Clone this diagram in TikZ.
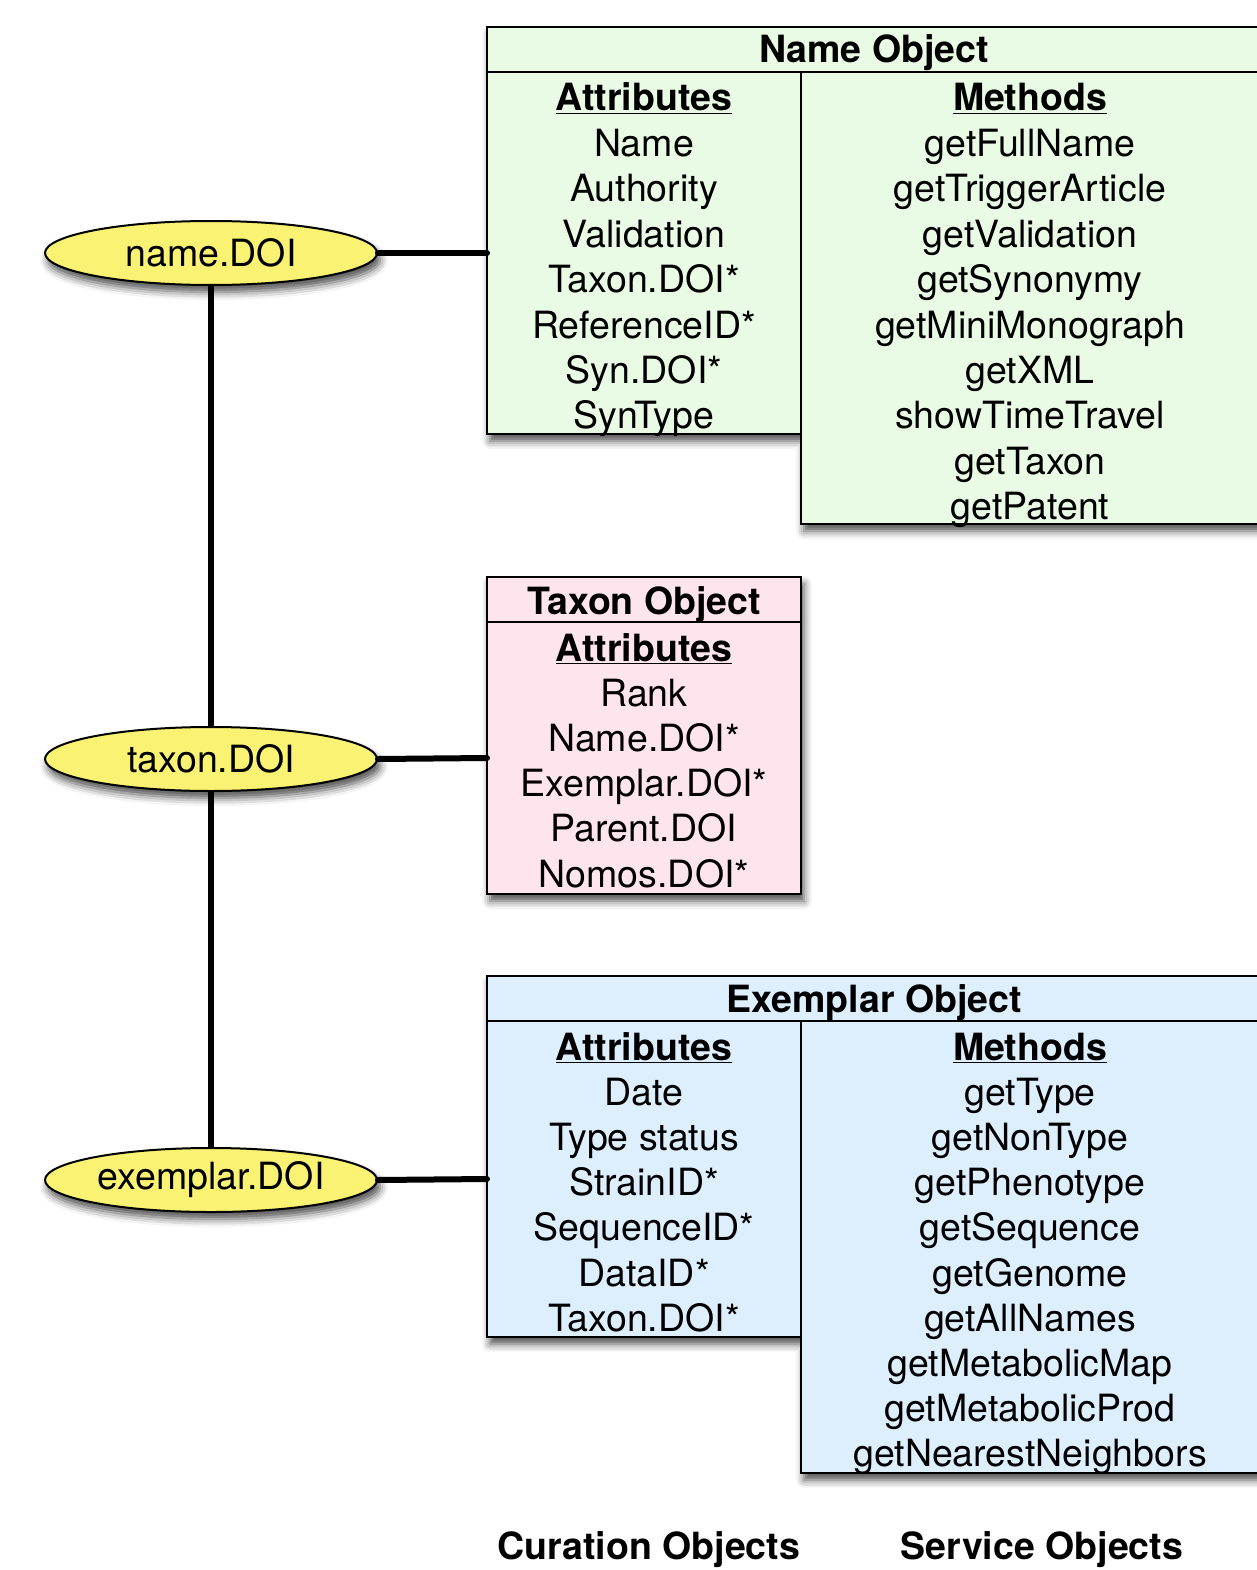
\documentclass[tikz,border=0pt]{standalone}
\usepackage{fontspec}
\setmainfont{TeX Gyre Heros}
\usetikzlibrary{shapes.geometric,shadows.blur}
\definecolor{namefill}{RGB}{233,251,229}
\definecolor{taxonfill}{RGB}{254,229,237}
\definecolor{exfill}{RGB}{221,238,253}
\definecolor{doifill}{RGB}{250,242,115}
\newcommand{\colhead}[1]{\underline{\textbf{#1}}}
\tikzset{
  boxline/.style={line width=2.5pt, draw=black, line join=miter},
  softshadow/.style={blur shadow={shadow xshift=3pt, shadow yshift=-7pt, shadow blur radius=8pt, shadow opacity=70}},
  cell/.style={inner sep=0pt, anchor=base, font=\fontsize{37.5}{44}\selectfont},
  doi/.style={ellipse, draw=black, line width=2pt, fill=doifill, minimum width=332pt, minimum height=64pt,
              inner sep=0pt, font=\fontsize{37.5}{44}\selectfont, softshadow},
  link/.style={line width=6pt, line cap=round},
  stem/.style={line width=6pt}
}
\begin{document}
\begin{tikzpicture}[x=1pt,y=-1pt]
\useasboundingbox (0,0) rectangle (1256,1570);

% ---- Name Object ----
\path[boxline, fill=namefill, softshadow]
  (487,27) -- (1262,27) -- (1262,524) -- (801,524) -- (801,434) -- (487,434) -- cycle;
\draw[boxline] (487,72) -- (1262,72);
\draw[boxline] (801,72) -- (801,434);
\node[cell] (nameTitle) at (874,63) {\textbf{Name Object}};
\foreach \t [count=\i from 0] in {\colhead{Attributes},Name,Authority,Validation,Taxon.DOI*,ReferenceID*,Syn.DOI*,SynType}
  \node[cell, name=nameAttr\i] at (644,111+45.4*\i) {\t};
\foreach \t [count=\i from 0] in {\colhead{Methods},getFullName,getTriggerArticle,getValidation,getSynonymy,getMiniMonograph,getXML,showTimeTravel,getTaxon,getPatent}
  \node[cell, name=nameMeth\i] at (1030,111+45.4*\i) {\t};

% ---- Taxon Object ----
\path[boxline, fill=taxonfill, softshadow] (487,577) rectangle (801,894);
\draw[boxline] (487,622) -- (801,622);
\node[cell] (taxonTitle) at (644,614) {\textbf{Taxon Object}};
\foreach \t [count=\i from 0] in {\colhead{Attributes},Rank,Name.DOI*,Exemplar.DOI*,Parent.DOI,Nomos.DOI*}
  \node[cell, name=taxonAttr\i] at (644,661+45.2*\i) {\t};

% ---- Exemplar Object ----
\path[boxline, fill=exfill, softshadow]
  (487,976) -- (1262,976) -- (1262,1473) -- (801,1473) -- (801,1337) -- (487,1337) -- cycle;
\draw[boxline] (487,1021) -- (1262,1021);
\draw[boxline] (801,1021) -- (801,1337);
\node[cell] (exTitle) at (874,1012) {\textbf{Exemplar Object}};
\foreach \t [count=\i from 0] in {\colhead{Attributes},Date,Type status,StrainID*,SequenceID*,DataID*,Taxon.DOI*}
  \node[cell, name=exAttr\i] at (644,1060+45.2*\i) {\t};
\foreach \t [count=\i from 0] in {\colhead{Methods},getType,getNonType,getPhenotype,getSequence,getGenome,getAllNames,getMetabolicMap,getMetabolicProd,getNearestNeighbors}
  \node[cell, name=exMeth\i] at (1030,1060+45.2*\i) {\t};

% ---- identifier ellipses ----
\node[doi] (nameDOI) at (211,253) {name.DOI};
\node[doi] (taxonDOI) at (211,759) {taxon.DOI};
\node[doi] (exDOI) at (211,1180) {exemplar.DOI};

% box attachment points
\coordinate (nameIn) at (487,253);
\coordinate (taxonIn) at (487,758);
\coordinate (exIn) at (487,1179);

% ---- connectors ----
\draw[stem] (nameDOI.south) -- (taxonDOI.north);
\draw[stem] (taxonDOI.south) -- (exDOI.north);
\draw[link] (nameDOI.east) -- (nameIn);
\draw[link] (taxonDOI.east) -- (taxonIn);
\draw[link] (exDOI.east) -- (exIn);

% ---- column captions ----
\node[cell] (curation) at (649,1559) {\textbf{Curation Objects}};
\node[cell] (service) at (1042,1559) {\textbf{Service Objects}};
\end{tikzpicture}
\end{document}
